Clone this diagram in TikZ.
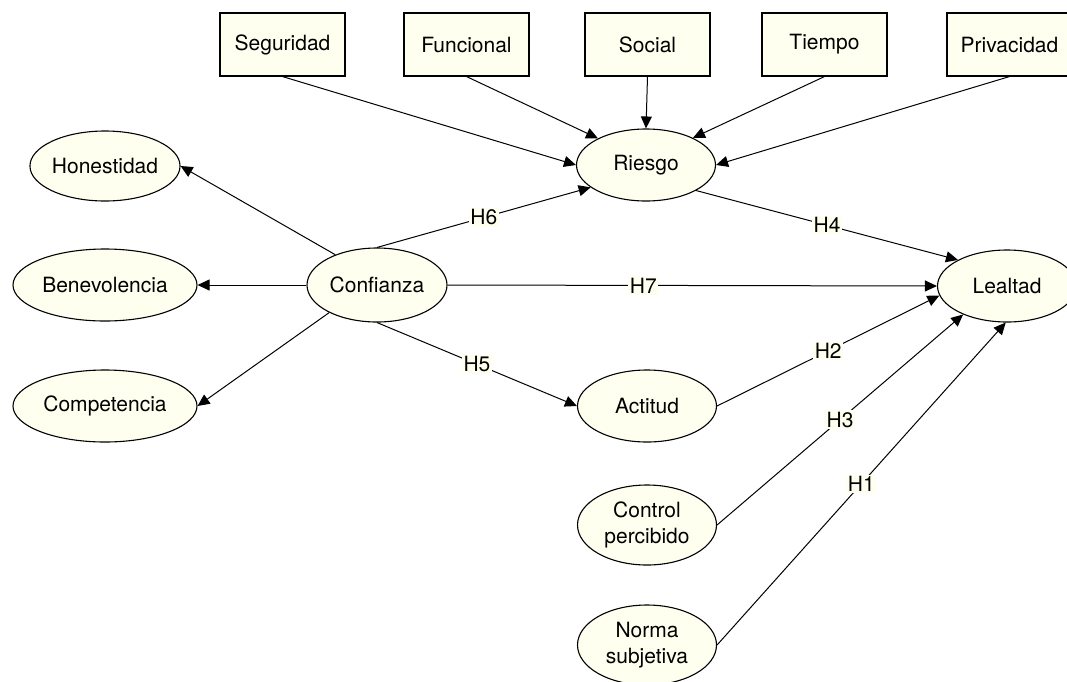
\documentclass[tikz,border=0pt]{standalone}
\usepackage{fontspec}
\setmainfont{TeX Gyre Heros}
\usetikzlibrary{shapes.geometric,arrows.meta}
\definecolor{crema}{RGB}{255,255,240}
\begin{document}
\begin{tikzpicture}[x=1pt,y=-1pt,
	font=\fontsize{21}{26}\selectfont,
	caja/.style={draw,fill=crema,line width=1.1pt,minimum width=125pt,minimum height=63pt,inner sep=0pt},
	elip/.style={ellipse,draw,fill=crema,line width=1.1pt,minimum width=139pt,minimum height=72pt,inner sep=0pt,align=center},
	flecha/.style={line width=1pt,-{Triangle[length=12pt,width=11pt]}},
	hip/.style={fill=crema,inner sep=1.5pt}]
			\useasboundingbox (0,0) rectangle (1067,681);
			\node[caja] (segu) at (282.5,44.5) {Seguridad};
			\node[caja] (func) at (466.5,44.5) {Funcional};
			\node[caja] (soci) at (647.5,44.5) {Social};
			\node[caja] (tiem) at (824.5,44.5) {Tiempo};
			\node[caja] (priv) at (1009.5,44.5) {Privacidad};
			\node[elip] (ries) at (646,165) {Riesgo};
			\node[elip,minimum height=70pt] (hone) at (105,166) {Honestidad};
			\node[elip,minimum width=184pt] (bene) at (105,285) {Benevolencia};
			\node[elip,minimum width=184pt] (comp) at (105,406) {Competencia};
			\node[elip,minimum width=140pt,minimum height=74pt] (conf) at (377,285) {Confianza};
			\node[elip] (leal) at (1007,286) {Lealtad};
			\node[elip] (acti) at (647,406) {Actitud};
			\node[elip,minimum height=80pt] (cont) at (647,525) {Control\\percibido};
			\node[elip,minimum height=80pt] (norm) at (647,645) {Norma\\subjetiva};
			\draw[flecha] (segu.south) -- (ries.west);
			\draw[flecha] (func.south) -- (ries.151);
			\draw[flecha] (soci.south) -- (ries.north);
			\draw[flecha] (tiem.south) -- (ries.30);
			\draw[flecha] (priv.south) -- (ries.east);
			\draw[flecha] (conf.144) -- (hone.east);
			\draw[flecha] (conf.west) -- (bene.east);
			\draw[flecha] (conf.210) -- (comp.east);
			\draw[flecha] (conf.north) -- node[hip]{H6} (ries.202);
			\draw[flecha] (conf.east) -- node[hip,pos=0.4]{H7} (leal.west);
			\draw[flecha] (conf.south) -- node[hip]{H5} (acti.west);
			\draw[flecha] (ries.333) -- node[hip]{H4} (leal.152);
			\draw[flecha] (acti.east) -- node[hip]{H2} (leal.188);
			\draw[flecha] (cont.east) -- node[hip]{H3} (leal.213);
			\draw[flecha] (norm.east) -- node[hip]{H1} (leal.268);
\end{tikzpicture}
\end{document}
